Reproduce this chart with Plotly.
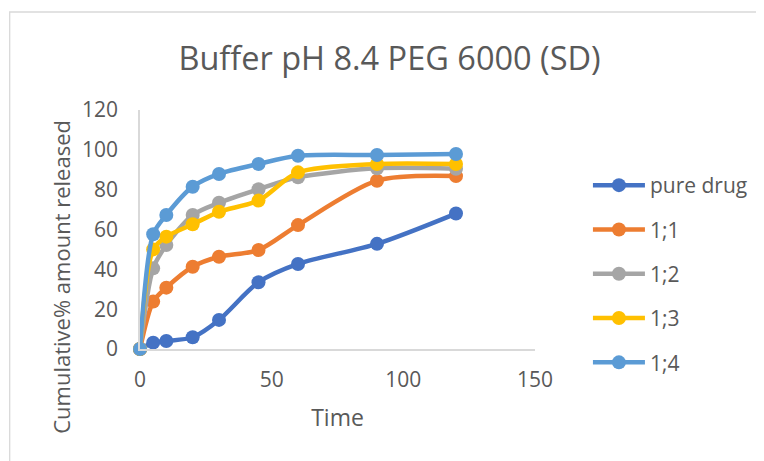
import plotly.graph_objects as go

time_min = [0, 5, 10, 20, 30, 45, 60, 90, 120]
series_names = ["pure drug", "1;1", "1;2", "1;3", "1;4"]
pure_drug = [0, 3.2, 4.0, 5.9, 14.6, 33.5, 42.7, 52.8, 68.0]
ratio_1_1 = [0, 23.8, 30.8, 41.3, 46.3, 49.7, 62.2, 84.5, 86.8]
ratio_1_2 = [0, 40.5, 52.2, 67.3, 73.4, 80.2, 86.2, 90.7, 90.5]
ratio_1_3 = [0, 50.0, 56.4, 62.6, 68.9, 74.5, 88.7, 92.9, 92.9]
ratio_1_4 = [0, 57.6, 67.3, 81.5, 87.9, 92.9, 97.0, 97.4, 97.9]
colors = ["#4472C4", "#ED7D31", "#A5A5A5", "#FFC000", "#5B9BD5"]

x_ticks = [0, 50, 100, 150]
y_ticks = [0, 20, 40, 60, 80, 100, 120]

# page offset from default body margin
OFF = 8
W, H = 764 - OFF, 461 - OFF
pw, ph = 396.5, 239
L, T = 139.5 - OFF, 110 - OFF
R, B = W - L - pw, H - T - ph

font_family = "Open Sans"
gray = "#595959"

fig = go.Figure()
for i, (name, vals) in enumerate(zip(series_names, [pure_drug, ratio_1_1, ratio_1_2, ratio_1_3, ratio_1_4])):
    fig.add_trace(go.Scatter(
        x=time_min, y=vals, name=name, mode="lines+markers",
        line=dict(color=colors[i], width=4.5, shape="spline", smoothing=0.8),
        marker=dict(color=colors[i], size=14),
        cliponaxis=False, legendgroup=name,
    ))

def px_x(p):
    # p: page pixel x
    return (p - OFF - L) / pw

def px_y(p):
    return (H - B - (p - OFF)) / ph

fig.add_shape(type="rect", xref="paper", yref="paper",
              x0=px_x(8.7), x1=px_x(800), y0=px_y(500), y1=px_y(12),
              line=dict(color="#D9D9D9", width=1.3), layer="below")

fig.add_annotation(text="Cumulative% amount released", textangle=-90,
                   xref="paper", yref="paper", x=px_x(60), y=px_y(277),
                   xanchor="center", yanchor="middle",
                   showarrow=False, font=dict(family=font_family, size=22, color=gray))

fig.update_layout(
    width=W, height=H,
    margin=dict(l=L, r=R, t=T, b=B),
    paper_bgcolor="white", plot_bgcolor="white",
    title=dict(text="Buffer pH 8.4 PEG 6000 (SD)", x=px_x(390), xanchor="center",
               xref="paper", y=1 - (59 - OFF) / H, yanchor="middle", yref="container",
               font=dict(family=font_family, size=32.5, color=gray)),
    xaxis=dict(range=[0, 150], tickvals=x_ticks, showgrid=False, zeroline=False,
               showline=True, linecolor="#D9D9D9", linewidth=1.5, ticks="",
               tickfont=dict(family=font_family, size=21, color=gray),
               ticklabelstandoff=11,
               title=dict(text="Time", font=dict(family=font_family, size=23, color=gray), standoff=18)),
    yaxis=dict(range=[0, 120], tickvals=y_ticks, showgrid=False, zeroline=False,
               showline=True, linecolor="#D9D9D9", linewidth=1.5, ticks="",
               tickfont=dict(family=font_family, size=21, color=gray),
               ticklabelstandoff=16),
    legend=dict(x=px_x(588), xanchor="left", y=px_y(165), yanchor="top",
                font=dict(family=font_family, size=21, color=gray),
                tracegroupgap=14, itemwidth=52, bgcolor="rgba(0,0,0,0)"),
    showlegend=True,
)

fig.write_html("out.html")
